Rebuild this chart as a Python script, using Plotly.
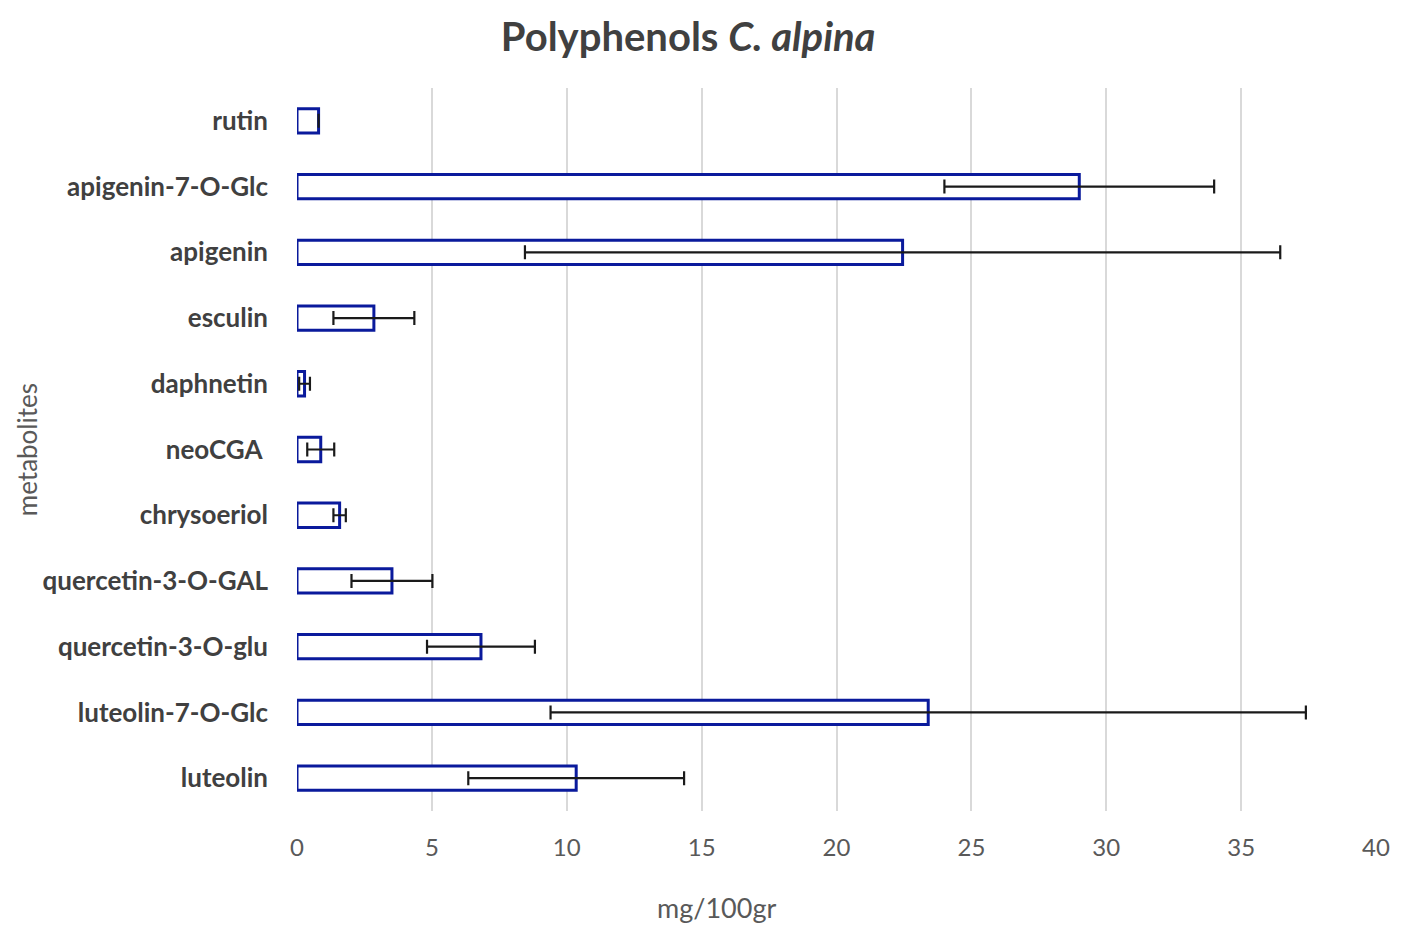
import plotly.graph_objects as go

# Metabolite content (top to bottom as shown)
metabolites = ["rutin", "apigenin-7-O-Glc", "apigenin", "esculin", "daphnetin",
               "neoCGA\u00a0", "chrysoeriol", "quercetin-3-O-GAL", "quercetin-3-O-glu",
               "luteolin-7-O-Glc", "luteolin"]
mean_values = [0.8, 29.0, 22.45, 2.85, 0.28, 0.88, 1.58, 3.52, 6.82, 23.4, 10.35]
std_values = [0.0, 5.0, 14.0, 1.5, 0.2, 0.5, 0.23, 1.5, 2.0, 14.0, 4.0]
x_ticks = [0, 5, 10, 15, 20, 25, 30, 35, 40]

font_name = "Lato"
bar_col = "#0a1a9c"
label_col = "#404040"
tick_col = "#595959"

fig = go.Figure()

fig.add_trace(go.Bar(
    x=mean_values,
    y=metabolites,
    orientation="h",
    width=0.37,
    marker=dict(color="white", line=dict(color=bar_col, width=3)),
    error_x=dict(type="data", array=std_values, color="#1a1a1a",
                 thickness=2.2, width=7),
    showlegend=False,
))

fig.update_layout(
    width=1417,
    height=940,
    plot_bgcolor="white",
    paper_bgcolor="white",
    margin=dict(l=289, r=49, t=80, b=137),
    font=dict(family=font_name, size=24, color=tick_col),

    # Title
    title=dict(
        text="<b>Polyphenols <i>C. alpina</i></b>",
        x=0.48, xanchor="center", xref="container",
        y=0.969, yanchor="middle", yref="container",
        font=dict(size=40, color=label_col, family=font_name),
    ),

    xaxis=dict(
        range=[0, 40],
        tickvals=x_ticks,
        showgrid=True,
        gridcolor="#d9d9d9",
        gridwidth=2,
        zeroline=False,
        showline=False,
        ticks="",
        ticklabelstandoff=20,
        tickfont=dict(size=24, color=tick_col),
    ),
    yaxis=dict(
        autorange="reversed",
        showgrid=False,
        zeroline=False,
        showline=False,
        ticks="",
        ticklabelstandoff=28,
        tickfont=dict(size=26, color=label_col, family=font_name, weight="bold"),
    ),
    bargap=0.6,

    # Axis titles placed as annotations
    annotations=[
        dict(text="mg/100gr", x=0.389, y=-0.134, xref="paper", yref="paper",
             xanchor="center", yanchor="middle", showarrow=False,
             font=dict(size=27, color=tick_col)),
        dict(text="metabolites", x=-0.2505, y=0.5, xref="paper", yref="paper",
             xanchor="center", yanchor="middle", showarrow=False, textangle=-90,
             borderpad=0, font=dict(size=26, color=tick_col)),
    ],
)

fig.write_html("out.html")
